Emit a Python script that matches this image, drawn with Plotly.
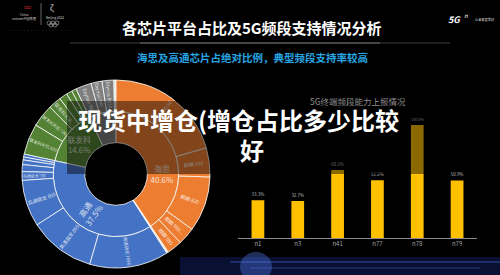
import plotly.graph_objects as go

W, H = 500, 275
FONT = "Noto Sans CJK SC"

# ---------------- Sunburst data (clockwise order from 12 o'clock) ----------------
sb_ids = ["root",
          "海思", "浅", "高通", "联发科", "三星",
          "麒麟990 5G", "麒麟980", "麒麟820", "麒麟990 4G", "麒麟985",
          "其他A",
          "高通骁龙765G", "高通骁龙855", "高通骁龙865", "高通骁龙730", "高通骁龙710",
          "高通骁龙675", "高通骁龙665", "高通骁龙660",
          "联发科天玑800", "联发科天玑720", "联发科天玑1000", "Helio P90", "Helio G90", "Helio P60",
          "Exynos 980", "Exynos 990", "Exynos 9825", "其他B"]
sb_parents = ["",
              "root", "root", "root", "root", "root",
              "海思", "海思", "海思", "海思", "海思",
              "浅",
              "高通", "高通", "高通", "高通", "高通", "高通", "高通", "高通",
              "联发科", "联发科", "联发科", "联发科", "联发科", "联发科",
              "三星", "三星", "三星", "三星"]
sb_values = [100.0,
             40.6, 0.3, 37.5, 14.6, 7.0,
             20.5, 5.0, 9.5, 3.0, 2.6,
             0.3,
             13.6, 11.4, 8.0, 1.5, 1.2, 0.8, 0.5, 0.5,
             5.3, 3.9, 2.2, 1.4, 1.0, 0.8,
             2.7, 1.9, 2.0, 0.4]
# inner labels drawn horizontally
sb_text_h = ["", "海思<br>40.6%", "", "", "联发科<br>14.6%", "",
             "", "", "", "", "", "",
             "", "", "", "", "", "", "", "",
             "", "", "", "", "", "",
             "", "", "", ""]
# labels drawn radially
sb_text_r = ["", "", "", "高通<br>37.5%", "", "",
             "麒麟 990 5G", "麒麟 980", "麒麟 820", "麒麟 990...", "麒麟 985",
             "",
             "高通骁龙 765G", "高通骁龙 855", "高通骁龙 865", "高通骁龙 730", "", "", "", "",
             "联发科天玑 800", "联发科天玑 720", "联发科天玑...", "", "", "",
             "Exynos 980", "Exynos 990", "Exynos 9825", ""]

ORANGE, BLUE, GREEN, GRAY = "#ED7D31", "#4472C4", "#548235", "#7F7F7F"
CREAM, LGRAY = "#F3E4D2", "#D9D9D9"
parent_color = {"海思": ORANGE, "浅": CREAM, "高通": BLUE, "联发科": GREEN, "三星": GRAY}
sb_colors = []
for i, p in zip(sb_ids, sb_parents):
    if i == "root":
        sb_colors.append("#000000")
    elif p == "root":
        sb_colors.append(parent_color[i])
    elif i == "其他B":
        sb_colors.append(LGRAY)
    else:
        sb_colors.append(parent_color[p])

# Plotly lays sunburst sectors out counter-clockwise -> reverse order
def rev(lst):
    return lst[::-1]

line_w = [0 if i == "root" else 0.8 for i in sb_ids]

# ---------------- Bar data ----------------
bar_cats = ["n1", "n3", "n41", "n77", "n78", "n79"]
bar_vals = [33.3, 32.7, 60.1, 51.2, 100.0, 50.9]
bar_text = ["33.3%", "32.7%", "60.1%", "51.2%", "100.0%", "50.9%"]

fig = go.Figure()

sb_dom = dict(x=[22 / W, 210 / W], y=[1 - 268 / H, 1 - 80 / H])

fig.add_trace(go.Sunburst(
    ids=rev(sb_ids), labels=rev(sb_ids), parents=rev(sb_parents), values=rev(sb_values),
    branchvalues="total", sort=False, rotation=90,
    marker=dict(colors=rev(sb_colors), line=dict(color="#FFFFFF", width=rev(line_w))),
    leaf=dict(opacity=1),
    text=rev(sb_text_h), textinfo="text",
    insidetextorientation="horizontal",
    textfont=dict(family=FONT, size=8, color="rgba(255,255,255,0.8)"),
    hoverinfo="skip", domain=sb_dom,
))
fig.add_trace(go.Sunburst(
    ids=rev(sb_ids), labels=rev(sb_ids), parents=rev(sb_parents), values=rev(sb_values),
    branchvalues="total", sort=False, rotation=90,
    marker=dict(colors=["rgba(0,0,0,0)"] * len(sb_ids), line=dict(width=0)),
    leaf=dict(opacity=1),
    text=rev(sb_text_r), textinfo="text",
    insidetextorientation="radial",
    textfont=dict(family=FONT, size=[8 if ("%" in t) else 5 for t in rev(sb_text_r)],
                  color="rgba(255,255,255,0.8)"),
    hoverinfo="skip", domain=sb_dom,
))

fig.add_trace(go.Bar(
    x=bar_cats, y=bar_vals, text=bar_text, textposition="outside",
    marker=dict(color="#FFC000", line=dict(width=0)), width=0.32,
    textfont=dict(family=FONT, size=6.5, color="#bfbfbf"),
    cliponaxis=False, hoverinfo="skip",
))

def px(x):
    return x / W

def py(y):
    return 1 - y / H

ann = []
def add_text(x, y, text, size, color, bold=False, xanchor="center", family=FONT):
    ann.append(dict(x=px(x), y=py(y), xref="paper", yref="paper", text=(f"<b>{text}</b>" if bold else text),
                    showarrow=False, xanchor=xanchor, yanchor="middle",
                    font=dict(family=family, size=size, color=color)))

# titles
add_text(252, 28, "各芯片平台占比及5G频段支持情况分析", 15, "#FFFFFF", bold=True)
add_text(252, 57, "海思及高通芯片占绝对比例，典型频段支持率较高", 10.5, "#27A6E3", bold=True)
add_text(358, 101, "5G终端频段能力上报情况", 8.5, "#8c8c8c")
# logos (approximate)
add_text(27, 7, "∞", 7, "#c62127")
add_text(10, 17, "China<br>unicom中国联通", 3.2, "#cfcfcf", xanchor="left")
add_text(44, 18, "Beijing 2022", 3.2, "#cfcfcf", xanchor="left")
add_text(52, 8, "ζ", 8, "#dddddd")
add_text(40, 31, "· · · · · · · · · · · · · · · · · ·", 3, "#777777")
add_text(454, 19, "<i><b>5G</b></i>", 9, "#FFFFFF")
add_text(466, 15, "<i>n</i>", 6, "#FFFFFF")
add_text(485, 19, "让未来更美好", 3.2, "#dddddd")
# overlay text
add_text(238, 119, "现货中增仓(增仓占比多少比较", 24, "#FFFFFF", bold=True)
add_text(252, 149, "好", 24, "#FFFFFF", bold=True)

shapes = [
    # background glow
    dict(type="rect", xref="paper", yref="paper", x0=px(180), x1=px(500), y0=py(275), y1=py(257),
         fillcolor="rgba(25,45,140,0.35)", line=dict(width=0), layer="below"),
    dict(type="line", xref="paper", yref="paper", x0=px(230), x1=px(500), y0=py(262), y1=py(262),
         line=dict(color="rgba(90,130,255,0.55)", width=1), layer="below"),
    dict(type="line", xref="paper", yref="paper", x0=px(250), x1=px(480), y0=py(268), y1=py(268),
         line=dict(color="rgba(90,130,255,0.4)", width=1), layer="below"),
    dict(type="circle", xref="paper", yref="paper", x0=px(240), x1=px(272), y0=py(282), y1=py(252),
         fillcolor="rgba(90,130,255,0.35)", line=dict(width=0), layer="below"),
    # title rule
    dict(type="line", xref="paper", yref="paper", x0=px(70), x1=px(450), y0=py(43), y1=py(43),
         line=dict(color="rgba(140,140,140,0.45)", width=1.2), layer="below"),
    dict(type="line", xref="paper", yref="paper", x0=px(140), x1=px(380), y0=py(43), y1=py(43),
         line=dict(color="rgba(200,200,200,0.45)", width=1.2), layer="below"),
    # logo divider
    dict(type="line", xref="paper", yref="paper", x0=px(41), x1=px(41), y0=py(3), y1=py(25),
         line=dict(color="#aaaaaa", width=0.6), layer="below"),
    # olympic rings (approximate)
    *[dict(type="circle", xref="paper", yref="paper", x0=px(cx - 2), x1=px(cx + 2), y0=py(cy + 2), y1=py(cy - 2),
           line=dict(color="#cccccc", width=0.5), layer="below")
      for cx, cy in [(49, 23), (53, 23), (57, 23), (51, 25), (55, 25)]],
    # dark overlay box
    dict(type="rect", xref="paper", yref="paper", x0=px(67), x1=px(440), y0=py(174), y1=py(101),
         fillcolor="rgba(0,0,0,0.45)", line=dict(width=0), layer="above"),
]

fig.update_layout(
    width=W, height=H, margin=dict(l=0, r=0, t=0, b=0),
    paper_bgcolor="#000000", plot_bgcolor="rgba(0,0,0,0)",
    showlegend=False, bargap=0.5,
    xaxis=dict(domain=[238 / W, 477 / W], showgrid=False, zeroline=False,
               showline=True, linecolor="#8c8c8c", linewidth=1, ticks="",
               tickfont=dict(family=FONT, size=6, color="#a6a6a6"), fixedrange=True),
    yaxis=dict(domain=[1 - 238 / H, 1 - 113.7 / H], range=[0, 110], visible=False, fixedrange=True),
    annotations=ann, shapes=shapes,
    font=dict(family=FONT),
)

fig.write_html("out.html")
